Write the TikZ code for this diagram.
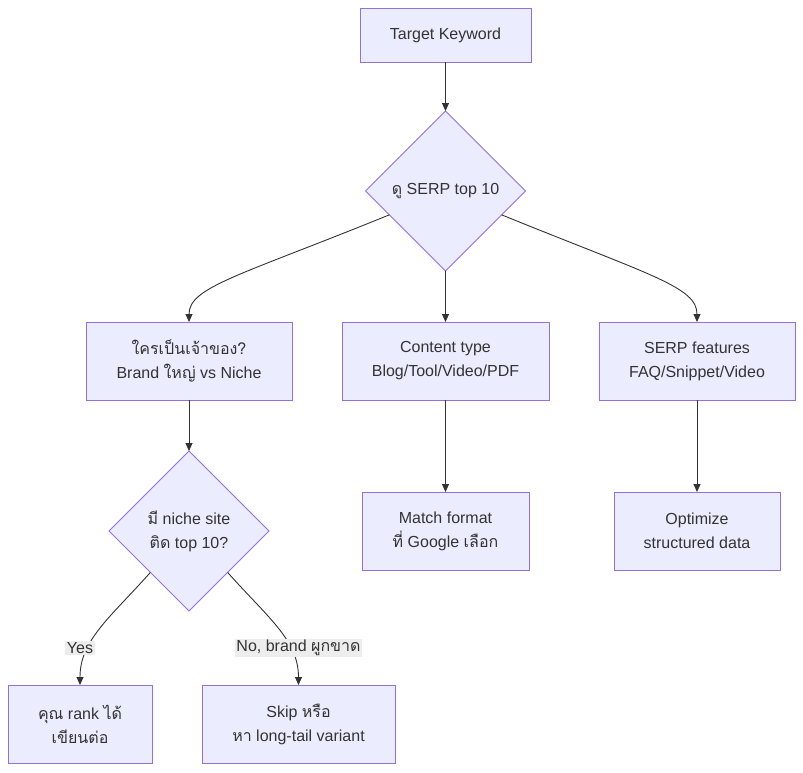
\documentclass[tikz,border=0pt]{standalone}
\usepackage{fontspec}
\setmainfont{Liberation Sans}
\newfontfamily\thaifont[Script=Thai]{Loma}
\newcommand{\thai}[1]{{\thaifont #1}}
\usetikzlibrary{shapes.geometric, arrows.meta, positioning}
\definecolor{nodefill}{HTML}{ECECFF}
\definecolor{nodeline}{HTML}{9370DB}
\definecolor{ink}{HTML}{333333}
\definecolor{lblbg}{HTML}{EDEDED}

\tikzset{
  box/.style={draw=nodeline, fill=nodefill, text=ink, align=center, minimum height=78pt, inner sep=0pt, outer sep=0pt, line width=1pt},
  decide/.style={diamond, draw=nodeline, fill=nodefill, text=ink, align=center, minimum width=160pt, minimum height=160pt, inner sep=0pt, outer sep=0pt, line width=0.8pt},
  edge/.style={draw=ink, line width=0.9pt, -{Triangle[length=8pt,width=7pt]}},
  lbl/.style={fill=lblbg, text=ink, inner sep=1.5pt}
}

\begin{document}
\begin{tikzpicture}[x=1pt, y=-1pt, font=\fontsize{16pt}{24pt}\selectfont]
      \useasboundingbox (0,0) rectangle (803,772);
      % Define nodes
      \node[box, minimum width=171pt, minimum height=54pt] (key) at (445.5,35) {Target Keyword};
      \node[decide, below=49pt of key]               (serp)  {\thai{ดู} SERP top 10};
      \node[box, minimum width=207pt, below=51pt of serp] (ctype) {Content type\\Blog/Tool/Video/PDF};
      \node[box, minimum width=206pt, left=50pt of ctype]  (owner) {\thai{ใครเป็นเจ้าของ?}\\Brand \thai{ใหญ่} vs Niche};
      \node[box, minimum width=196pt, right=50pt of ctype] (feat)  {SERP features\\FAQ/Snippet/Video};
      \node[decide, below=51pt of owner]             (niche) {\thai{มี} niche site\\\thai{ติด} top 10?};
      \node[box, minimum width=167pt, below=92pt of ctype] (match) {Match format\\\thai{ที่} Google \thai{เลือก}};
      \node[box, minimum width=166pt, below=92pt of feat]  (optim) {Optimize\\structured data};
      \node[box, minimum width=144pt, below=74pt of niche, xshift=-109pt] (rank) {\thai{คุณ} rank \thai{ได้}\\\thai{เขียนต่อ}};
      \node[box, minimum width=193pt, right=50pt of rank]  (skip)  {Skip \thai{หรือ}\\\thai{หา} long-tail variant};
      % Connect nodes
      \draw[edge] (key) -- (serp);
      \draw[edge] (serp.203) .. controls +(-150,61) and +(0,-35) .. (owner.north);
      \draw[edge] (serp) -- (ctype);
      \draw[edge] (serp.-23) .. controls +(150,61) and +(0,-35) .. (feat.north);
      \draw[edge] (owner) -- (niche);
      \draw[edge] (ctype) -- (match);
      \draw[edge] (feat) -- (optim);
      \draw[edge] (niche.227) .. controls +(-40,45) and +(0,-45) .. (rank.north);
      \draw[edge] (niche.-47) .. controls +(40,45) and +(0,-45) .. (skip.north);
      % Edge labels
      \node[lbl] (yes) at ([yshift=37pt]rank.north) {Yes};
      \node[lbl] (no)  at ([yshift=37pt]skip.north) {No, brand \thai{ผูกขาด}};
\end{tikzpicture}
\end{document}
